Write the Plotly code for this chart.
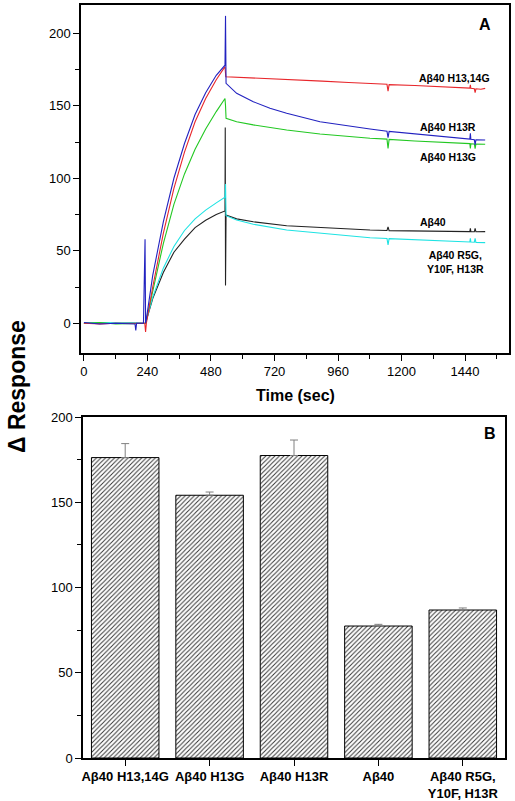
import plotly.graph_objects as go

W, H = 515, 801

# ---------------- Panel A data ----------------
t_red = [0, 60, 120, 180, 230, 233, 236, 260, 300, 340, 380, 420, 460, 500, 533, 536, 600, 700, 800, 900, 1000, 1100, 1145, 1149, 1153, 1250, 1350, 1450, 1458, 1460, 1462, 1475, 1478, 1481, 1500, 1516]
r_red = [0, -0.5, 0, 0, 0, -6, 0, 25, 62, 93, 118, 139, 155, 168, 177, 170, 169.5, 169, 168, 167, 166, 165, 164.8, 160, 164.6, 164, 163, 162.3, 162.2, 164.5, 162.1, 161.8, 159, 161.7, 161.4, 162]

t_blue = [0, 60, 120, 180, 193, 196, 199, 225, 231, 233, 236, 260, 300, 340, 380, 420, 460, 500, 533, 535, 537, 577, 640, 703, 766, 892, 1000, 1081, 1145, 1149, 1153, 1250, 1350, 1450, 1458, 1460, 1462, 1475, 1478, 1481, 1516]
r_blue = [0.5, -0.5, 0, 0, -0.5, -5, 0, 0, 58, 0, 3, 33, 70, 100, 124, 144, 159, 171, 178, 212, 165.5, 158.6, 152.8, 148.3, 144.8, 139, 136, 134, 132.5, 128, 132.3, 130.5, 129, 127.2, 127, 131, 126.9, 126.6, 123, 126.6, 126.4]

t_green = [0, 60, 120, 180, 230, 233, 260, 300, 340, 380, 420, 460, 500, 533, 535, 537, 577, 640, 766, 892, 1081, 1145, 1149, 1153, 1250, 1350, 1450, 1458, 1460, 1462, 1475, 1478, 1481, 1516]
r_green = [0, 0.5, -0.5, 0, 0, 0, 22, 55, 82, 103, 120, 134, 146, 155, 150, 141.4, 139, 136.8, 133.3, 130.5, 127.6, 127, 120.5, 126.8, 125.7, 124.8, 124, 123.9, 120.5, 123.8, 123.7, 120.5, 123.6, 123.5]

t_cyan = [0, 60, 120, 180, 230, 233, 260, 300, 340, 380, 420, 460, 500, 533, 535, 537, 577, 640, 766, 892, 1081, 1145, 1149, 1153, 1250, 1350, 1450, 1458, 1460, 1462, 1475, 1478, 1481, 1516]
r_cyan = [0, 0.5, 0.3, 0.5, 0, 0, 18, 38, 53, 64, 72, 78, 83, 87, 96, 74.2, 71.2, 68.3, 64.3, 62, 59, 58.5, 54, 58.4, 57.6, 56.8, 56.2, 56.1, 58.5, 56, 55.9, 58.5, 55.8, 55.6]

t_black = [0, 60, 120, 180, 230, 233, 260, 300, 340, 380, 420, 460, 500, 533, 534, 535, 537, 577, 640, 766, 892, 1081, 1145, 1149, 1153, 1250, 1350, 1450, 1458, 1460, 1462, 1475, 1478, 1481, 1516]
r_black = [0, 0, 0, 0, 0, 0, 17, 35, 49, 58, 66, 71, 75, 77.5, 135, 26, 74.7, 72, 70, 67.3, 66, 64.3, 64, 66.5, 63.9, 63.7, 63.5, 63.3, 63.2, 65.5, 63.2, 63.1, 65.5, 63.1, 63.2]

# ---------------- Panel B data ----------------
bar_labels = ["Aβ40 H13,14G", "Aβ40 H13G", "Aβ40 H13R", "Aβ40", "Aβ40 R5G,<br>Y10F, H13R"]
bar_values = [176.2, 154.1, 177.4, 77.4, 86.8]
bar_errors = [8.2, 1.9, 9.1, 1.0, 1.2]

FONT = "Liberation Sans, Arial, sans-serif"

def px_x(p):
    return p / W

def px_y(p):
    return 1 - p / H

fig = go.Figure()

curves = [
    (t_black, r_black, "#222222", "Aβ40"),
    (t_cyan, r_cyan, "#1ee3e3", "Aβ40 R5G, Y10F, H13R"),
    (t_green, r_green, "#22c822", "Aβ40 H13G"),
    (t_red, r_red, "#e8262b", "Aβ40 H13,14G"),
    (t_blue, r_blue, "#2222c0", "Aβ40 H13R"),
]
for tx, ry, col, nm in curves:
    fig.add_trace(go.Scatter(x=tx, y=ry, mode="lines", name=nm,
                             line=dict(color=col, width=1.1),
                             xaxis="x", yaxis="y", showlegend=False))

fig.add_trace(go.Bar(
    x=list(range(len(bar_values))), y=bar_values, width=0.8,
    marker=dict(color="white", line=dict(color="black", width=1),
                pattern=dict(shape="/", fgcolor="#333333", bgcolor="white",
                             size=3.2, solidity=0.3)),
    error_y=dict(type="data", symmetric=False, array=bar_errors,
                 arrayminus=[0] * len(bar_errors), color="#808080",
                 thickness=1, width=4),
    xaxis="x2", yaxis="y2", showlegend=False))

axis_common = dict(showline=True, linecolor="black", linewidth=1.5, mirror=True,
                   ticks="outside", ticklen=6, tickwidth=1.2, tickcolor="black",
                   showgrid=False, zeroline=False, automargin=False,
                   tickfont=dict(family=FONT, size=13, color="black"))

fig.update_layout(
    template="none",
    width=W, height=H,
    margin=dict(l=0, r=0, t=0, b=0),
    paper_bgcolor="white", plot_bgcolor="white",
    xaxis=dict(domain=[px_x(81), px_x(509)], anchor="y",
               range=[-11, 1606], tick0=0, dtick=240,
               minor=dict(dtick=120, ticks="outside", ticklen=4, tickcolor="black"),
               **axis_common),
    yaxis=dict(domain=[px_y(353), px_y(5)], anchor="x",
               range=[-20.5, 219.5], tick0=0, dtick=50,
               minor=dict(dtick=25, ticks="outside", ticklen=4, tickcolor="black"),
               **axis_common),
    xaxis2=dict(domain=[px_x(83), px_x(505)], anchor="y2",
                range=[-0.5, 4.5], tickmode="array",
                tickvals=list(range(len(bar_labels))), ticktext=bar_labels,
                **{**axis_common, "tickfont": dict(family=FONT, size=13, color="black", weight="bold")}),
    yaxis2=dict(domain=[px_y(758), px_y(417)], anchor="x2",
                range=[0, 200], tick0=0, dtick=50,
                minor=dict(dtick=25, ticks="outside", ticklen=4, tickcolor="black"),
                **axis_common),
)

ann = []
def add_text(txt, x, y, size, **kw):
    ann.append(dict(text=txt, x=px_x(x), y=px_y(y), xref="paper", yref="paper",
                    showarrow=False, font=dict(family=FONT, size=size, color="black", weight="bold"),
                    xanchor="center", yanchor="middle", **kw))

add_text("Δ Response", 17, 387, 23, textangle=-90)
add_text("Time (sec)", 295, 395, 16)
add_text("A", 485, 25, 16)
add_text("B", 490, 433, 16)
add_text("Aβ40 H13,14G", 454, 78, 10.5)
add_text("Aβ40 H13R", 448, 127, 10.5)
add_text("Aβ40 H13G", 448, 157, 10.5)
add_text("Aβ40", 433, 222, 10.5)
add_text("Aβ40 R5G,<br>Y10F, H13R", 455, 262, 10.5)
fig.update_layout(annotations=ann)

fig.write_html("out.html", config={"displayModeBar": False},
               post_script="document.body.style.margin='0';document.body.style.overflow='hidden';")
